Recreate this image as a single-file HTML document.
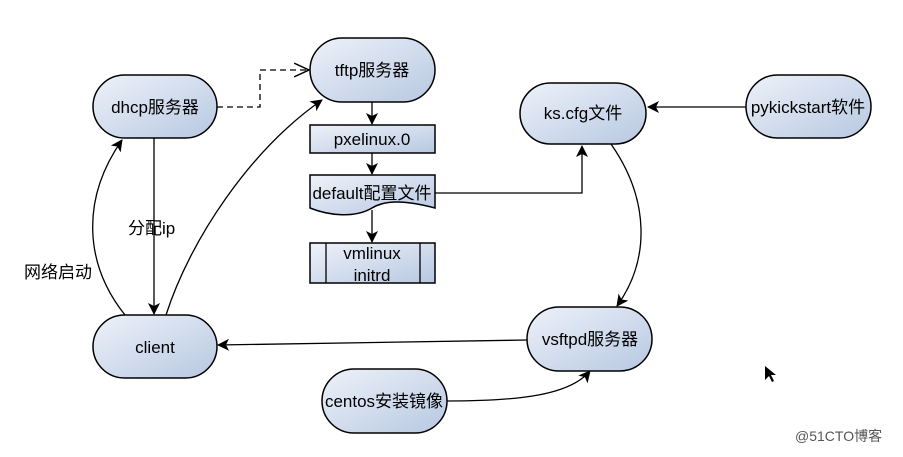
<!DOCTYPE html>
<html><head><meta charset="utf-8"><style>
html,body{margin:0;padding:0;background:#fff;}
svg text{font-family:"Liberation Sans","Noto Sans CJK SC",sans-serif;font-size:17px;fill:#000;}
</style></head><body>
<svg width="903" height="452" viewBox="0 0 903 452" xmlns="http://www.w3.org/2000/svg">
<defs>
<linearGradient id="g" x1="0" y1="0" x2="1" y2="1">
<stop offset="0" stop-color="#eef2f9"/><stop offset="1" stop-color="#b7c8e2"/></linearGradient>
<marker id="a" viewBox="0 0 12 12" refX="11" refY="6" markerWidth="12" markerHeight="12" markerUnits="userSpaceOnUse" orient="auto">
<path d="M0,0 L12,6 L0,12 L3,6 Z" fill="#000"/></marker>
<marker id="o" viewBox="0 0 14 14" refX="13" refY="7" markerWidth="16" markerHeight="16" markerUnits="userSpaceOnUse" orient="auto">
<path d="M0,1 L13,7 L0,13" fill="none" stroke="#000" stroke-width="1.3"/></marker>
</defs>
<g stroke="#000" stroke-width="1.5" fill="url(#g)">
<rect x="93" y="75" width="124" height="63" rx="31.5"/>
<rect x="310" y="38" width="125" height="64" rx="32"/>
<rect x="520" y="83" width="126" height="61" rx="30.5"/>
<rect x="746" y="75" width="125" height="63" rx="31.5"/>
<rect x="93" y="315" width="124" height="63" rx="31.5"/>
<rect x="527" y="307" width="125" height="64" rx="32"/>
<rect x="322" y="369" width="125" height="64" rx="32"/>
<rect x="310" y="125" width="125" height="28"/>
<path d="M310,175 H435 V208 C405,200 385,200 372,208 C355,218 330,216 310,208 Z"/>
<rect x="310" y="243" width="125" height="40"/>
</g>
<g stroke="#000" stroke-width="1.3" fill="none">
<line x1="326" y1="243" x2="326" y2="283"/><line x1="420" y1="243" x2="420" y2="283"/>
<path d="M217,107 H260 V70 H309" stroke-dasharray="6,4" marker-end="url(#o)"/>
<line x1="372" y1="102" x2="372" y2="124" marker-end="url(#a)"/>
<line x1="372" y1="153" x2="372" y2="174" marker-end="url(#a)"/>
<line x1="372" y1="210" x2="372" y2="242" marker-end="url(#a)"/>
<line x1="154" y1="138" x2="154" y2="314" marker-end="url(#a)"/>
<path d="M125,315 C85,265 80,200 122,140" marker-end="url(#a)"/>
<path d="M166,315 C190,240 250,150 322,100" marker-end="url(#a)"/>
<path d="M435,193 H582 V146" marker-end="url(#a)"/>
<line x1="746" y1="107" x2="648" y2="107" marker-end="url(#a)"/>
<path d="M611,144 C650,200 650,260 617,306" marker-end="url(#a)"/>
<line x1="527" y1="340" x2="218" y2="345" marker-end="url(#a)"/>
<path d="M447,401 C520,401 570,395 590,371" marker-end="url(#a)"/>
</g>
<g text-anchor="middle">
<text x="155" y="113">dhcp服务器</text>
<text x="372" y="76">tftp服务器</text>
<text x="372" y="145">pxelinux.0</text>
<text x="372" y="199">default配置文件</text>
<text x="372" y="259">vmlinux</text>
<text x="372" y="281">initrd</text>
<text x="583" y="119">ks.cfg文件</text>
<text x="808" y="113">pykickstart软件</text>
<text x="155" y="353">client</text>
<text x="590" y="345">vsftpd服务器</text>
<text x="384" y="407">centos安装镜像</text>
</g>
<text x="128" y="234">分配ip</text>
<text x="24" y="278">网络启动</text>
<path d="M765,366 L765,380 L769,376 L772,382 L774,381 L771,375 L776,375 Z" fill="#000"/>
<text x="795" y="441" style="font-size:14px;fill:#555">@51CTO博客</text>
</svg>
</body></html>
